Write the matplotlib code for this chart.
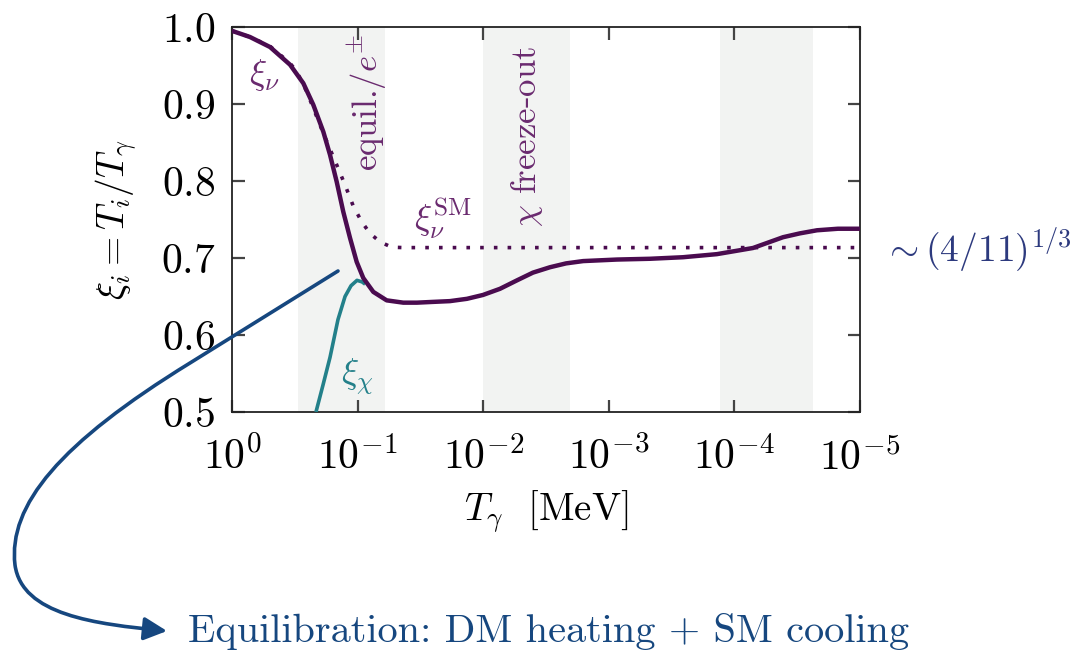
import numpy as np
import matplotlib
matplotlib.use("Agg")
import matplotlib.pyplot as plt
from matplotlib.path import Path
from matplotlib.patches import FancyArrowPatch
from matplotlib.ticker import FixedLocator, FixedFormatter, LogLocator, NullFormatter

plt.rcParams['mathtext.fontset'] = 'cm'
plt.rcParams['font.family'] = 'serif'
plt.rcParams['font.serif'] = ['cmr10', 'DejaVu Serif']
plt.rcParams['axes.unicode_minus'] = False

# ---------------- data ----------------
T_nu = [1.0, 0.719, 0.498, 0.345, 0.2706, 0.2253, 0.1875, 0.1658, 0.1467, 0.1300,
        0.1149, 0.1017, 0.0901, 0.0750, 0.0587, 0.0433, 0.0337, 0.0251, 0.0184,
        0.01346, 0.01004, 0.00735, 0.00538, 0.00402, 0.00294, 0.00219, 0.00160,
        8.6e-4, 4.70e-4, 2.57e-4, 1.38e-4, 9.9e-5, 7.11e-5, 5.40e-5, 4.10e-5,
        3.01e-5, 2.20e-5, 1.50e-5, 1.0e-5]
xi_nu = [0.995, 0.987, 0.974, 0.951, 0.927, 0.899, 0.864, 0.834, 0.799, 0.760,
         0.726, 0.695, 0.674, 0.656, 0.645, 0.642, 0.642, 0.643, 0.644,
         0.647, 0.652, 0.660, 0.671, 0.681, 0.688, 0.693, 0.696,
         0.698, 0.699, 0.701, 0.705, 0.709, 0.713, 0.720, 0.727,
         0.732, 0.736, 0.738, 0.738]

T_sm = [1.0, 0.719, 0.498, 0.345, 0.305, 0.254, 0.1875, 0.1467, 0.126, 0.108,
        0.0927, 0.0797, 0.0663, 0.0535, 0.0433, 1.0e-5]
xi_sm = [0.995, 0.987, 0.975, 0.953, 0.942, 0.916, 0.862, 0.821, 0.795, 0.767,
         0.747, 0.732, 0.721, 0.714, 0.7135, 0.7135]

T_chi = [0.2145, 0.1886, 0.1658, 0.1433, 0.1259, 0.1128, 0.1011, 0.0922, 0.0870]
xi_chi = [0.500, 0.535, 0.571, 0.620, 0.650, 0.664, 0.671, 0.669, 0.666]

bands = [(0.30, 0.0605), (0.0100, 0.00204), (1.30e-4, 2.37e-5)]

y_ticks = [0.5, 0.6, 0.7, 0.8, 0.9, 1.0]
y_ticklabels = ['$0.5$', '$0.6$', '$0.7$', '$0.8$', '$0.9$', '$1.0$']
x_ticks = [1.0, 1e-1, 1e-2, 1e-3, 1e-4, 1e-5]
x_ticklabels = ['$10^{0}$', '$10^{-1}$', '$10^{-2}$', '$10^{-3}$', '$10^{-4}$', '$10^{-5}$']

# ---------------- styling ----------------
c_nu = '#4a0b4f'
c_txt = '#6a2a6f'
c_chi = '#23808a'
c_blue = '#16477f'
c_ratio = '#2d3a7e'
c_band = '#f2f3f2'

W, H = 1080, 655
fig = plt.figure(figsize=(W / 100, H / 100), dpi=100)
ax = fig.add_axes([232 / W, 1 - 412 / H, (860 - 232) / W, (412 - 27) / H])

for lo, hi in bands:
    ax.axvspan(lo, hi, color=c_band, lw=0, zorder=0)

ax.plot(T_sm, xi_sm, color=c_nu, lw=2.6, linestyle=(0, (1, 2.8)), zorder=3)
ax.plot(T_nu, xi_nu, color=c_nu, lw=3.2, zorder=4, solid_capstyle='butt',
        solid_joinstyle='round')
ax.plot(T_chi, xi_chi, color=c_chi, lw=2.6, zorder=3, solid_capstyle='butt',
        solid_joinstyle='round')

ax.set_xscale('log')
ax.set_xlim(1.0, 1e-5)
ax.set_ylim(0.5, 1.0)

ax.xaxis.set_major_locator(FixedLocator(x_ticks))
ax.xaxis.set_major_formatter(FixedFormatter(x_ticklabels))
ax.xaxis.set_minor_locator(LogLocator(base=10, subs=np.arange(2, 10)))
ax.xaxis.set_minor_formatter(NullFormatter())
ax.yaxis.set_major_locator(FixedLocator(y_ticks))
ax.yaxis.set_major_formatter(FixedFormatter(y_ticklabels))

ax.tick_params(which='both', direction='in', top=True, right=True, colors='#444444',
               labelcolor='black', labelsize=30)
ax.tick_params(which='major', length=9, width=1.6)
ax.tick_params(which='minor', length=5, width=1.2)
ax.tick_params(axis='x', pad=18)
ax.tick_params(axis='y', pad=12)
for s in ax.spines.values():
    s.set_color('#222222')
    s.set_linewidth(1.3)

ax.set_xlabel(r'$T_\gamma\ $ [MeV]', fontsize=28, labelpad=8)

# ---------------- annotations ----------------
def fx(px):
    return px / W

def fy(py):
    return 1 - py / H

fig.text(fx(116), fy(220), r'$\xi_i = T_i/T_\gamma$', fontsize=27, rotation=90,
         ha='center', va='center')
fig.text(fx(265), fy(75), r'$\xi_\nu$', color=c_txt, fontsize=26, ha='center', va='center')
fig.text(fx(367), fy(102), r'equil./$e^{\pm}$', color=c_txt, fontsize=25, rotation=90,
         ha='center', va='center')
fig.text(fx(527), fy(137), r'$\chi$ freeze-out', color=c_txt, fontsize=25, rotation=90,
         ha='center', va='center')
fig.text(fx(443), fy(218), r'$\xi_\nu^{\rm SM}$', color=c_txt, fontsize=26, ha='center', va='center')
fig.text(fx(357), fy(377), r'$\xi_\chi$', color=c_chi, fontsize=26, ha='center', va='center')
fig.text(fx(883), fy(250), r'$\sim (4/11)^{1/3}$', color=c_ratio, fontsize=27, ha='left', va='center')
fig.text(fx(188), fy(632), 'Equilibration: DM heating + SM cooling', color=c_blue,
         fontsize=29, ha='left', va='center')

pts = [(338, 271), (190, 363),
       (60, 443), (8, 505), (15, 565),
       (22, 615), (95, 624), (167, 631)]
codes = [Path.MOVETO, Path.LINETO,
         Path.CURVE4, Path.CURVE4, Path.CURVE4,
         Path.CURVE4, Path.CURVE4, Path.CURVE4]
path = Path([(fx(x), fy(y)) for x, y in pts], codes)
arrow = FancyArrowPatch(path=path, arrowstyle='-|>,head_length=0.7,head_width=0.35',
                        mutation_scale=20, color=c_blue, lw=2.6,
                        transform=fig.transFigure, zorder=10)
fig.patches.append(arrow)

fig.savefig('out.png', dpi=100)
